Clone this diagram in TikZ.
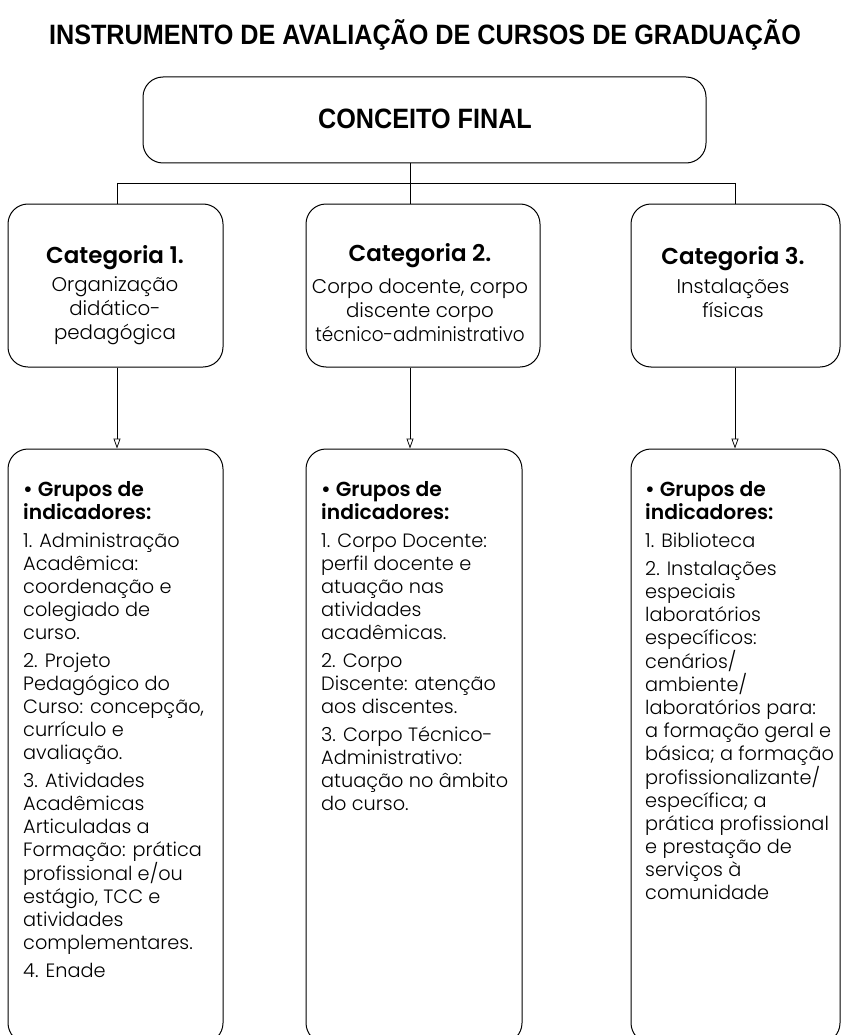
\documentclass[tikz,border=0pt]{standalone}
\usepackage{fontspec}
\setmainfont{Poppins}[UprightFont={* Light}, BoldFont={* SemiBold}]
\newfontfamily\titlefont{Liberation Sans}
\usetikzlibrary{arrows.meta}
\begin{document}
\begin{tikzpicture}[x=1pt,y=-1pt,
  box/.style={draw, line width=1pt, rounded corners=20pt, inner sep=0pt},
  conn/.style={line width=0.75pt},
  arr/.style={conn, -{Triangle[open,width=7pt,length=10pt]}},
  headfont/.style={font=\titlefont\bfseries\fontsize{28}{30}\selectfont},
  cattext/.style={align=center, anchor=north, inner sep=0pt, font=\fontsize{19.8}{24}\selectfont},
  indtext/.style={align=left, anchor=north west, inner sep=0pt, font=\fontsize{19.3}{23}\selectfont},
]
\newcommand{\cattitle}[1]{{\bfseries\fontsize{23}{24}\selectfont #1}}
\newcommand{\indhead}[1]{{\bfseries\fontsize{20.3}{23}\selectfont #1}}
\useasboundingbox (0,0) rectangle (842,1035);

% title
\node[headfont, anchor=base] (title) at (425,45) {\scalebox{0.9}[1]{INSTRUMENTO DE AVALIAÇÃO DE CURSOS DE GRADUAÇÃO}};

% top box
\node[box, minimum width=563pt, minimum height=86pt] (top) at (424.5,120) {};
\node[headfont, anchor=base] (toplabel) at (425,129) {\scalebox{0.9}[1]{CONCEITO FINAL}};

% category boxes
\node[box, minimum width=215pt, minimum height=163pt] (cat1) at (115.5,285.5) {};
\node[box, minimum width=234pt, minimum height=163pt] (cat2) at (423,285.5) {};
\node[box, minimum width=209pt, minimum height=163pt] (cat3) at (735.5,285.5) {};

\node[cattext] (cat1t) at (115,245) {\cattitle{Categoria 1.}\\[4pt] Organização\\ didático-\\ pedagógica};
\node[cattext] (cat2t) at (420,243) {\cattitle{Categoria 2.}\\[8pt] Corpo docente, corpo\\ discente corpo\\ \scalebox{0.93}[1]{técnico-administrativo}};
\node[cattext] (cat3t) at (733,246) {\cattitle{Categoria 3.}\\[5pt] Instalações\\ físicas};

% indicator boxes
\node[box, minimum width=215pt, minimum height=594pt] (ind1) at (115.5,746) {};
\node[box, minimum width=216pt, minimum height=594pt] (ind2) at (414,746) {};
\node[box, minimum width=209pt, minimum height=594pt] (ind3) at (735.5,746) {};

\node[indtext] (ind1t) at (23,481) {\indhead{• Grupos de}\\ \indhead{indicadores:}\\[5pt]
1. Administração\\ Acadêmica:\\ coordenação e\\ colegiado de\\ curso.\\[5pt]
2. Projeto\\ Pedagógico do\\ Curso: concepção,\\ currículo e\\ avaliação.\\[5pt]
3. Atividades\\ Acadêmicas\\ Articuladas a\\ Formação: prática\\ profissional e/ou\\ estágio, TCC e\\ atividades\\ complementares.\\[5pt]
4. Enade};

\node[indtext] (ind2t) at (321,481) {\indhead{• Grupos de}\\ \indhead{indicadores:}\\[5pt]
1. Corpo Docente:\\ perfil docente e\\ atuação nas\\ atividades\\ acadêmicas.\\[5pt]
2. Corpo\\ Discente: atenção\\ aos discentes.\\[5pt]
3. Corpo Técnico-\\ Administrativo:\\ atuação no âmbito\\ do curso.};

\node[indtext] (ind3t) at (645,481) {\indhead{• Grupos de}\\ \indhead{indicadores:}\\[5pt]
1. Biblioteca\\[5pt]
2. Instalações\\ especiais\\ laboratórios\\ específicos:\\ cenários/\\ ambiente/\\ laboratórios para:\\ a formação geral e\\ básica; a formação\\ profissionalizante/\\ específica; a\\ prática profissional\\ e prestação de\\ serviços à\\ comunidade};

% connectors
\coordinate (hub) at (410,183);
\coordinate (left) at (117,183);
\coordinate (right) at (735,183);
\draw[conn] (top.south -| hub) -- (hub);
\draw[conn] (left) -- (right);
\draw[conn] (left) -- (left |- cat1.north);
\draw[conn] (hub) -- (hub |- cat2.north);
\draw[conn] (right) -- (right |- cat3.north);
\draw[arr] (left |- cat1.south) -- (left |- ind1.north);
\draw[arr] (hub |- cat2.south) -- (hub |- ind2.north);
\draw[arr] (right |- cat3.south) -- (right |- ind3.north);
\end{tikzpicture}
\end{document}
